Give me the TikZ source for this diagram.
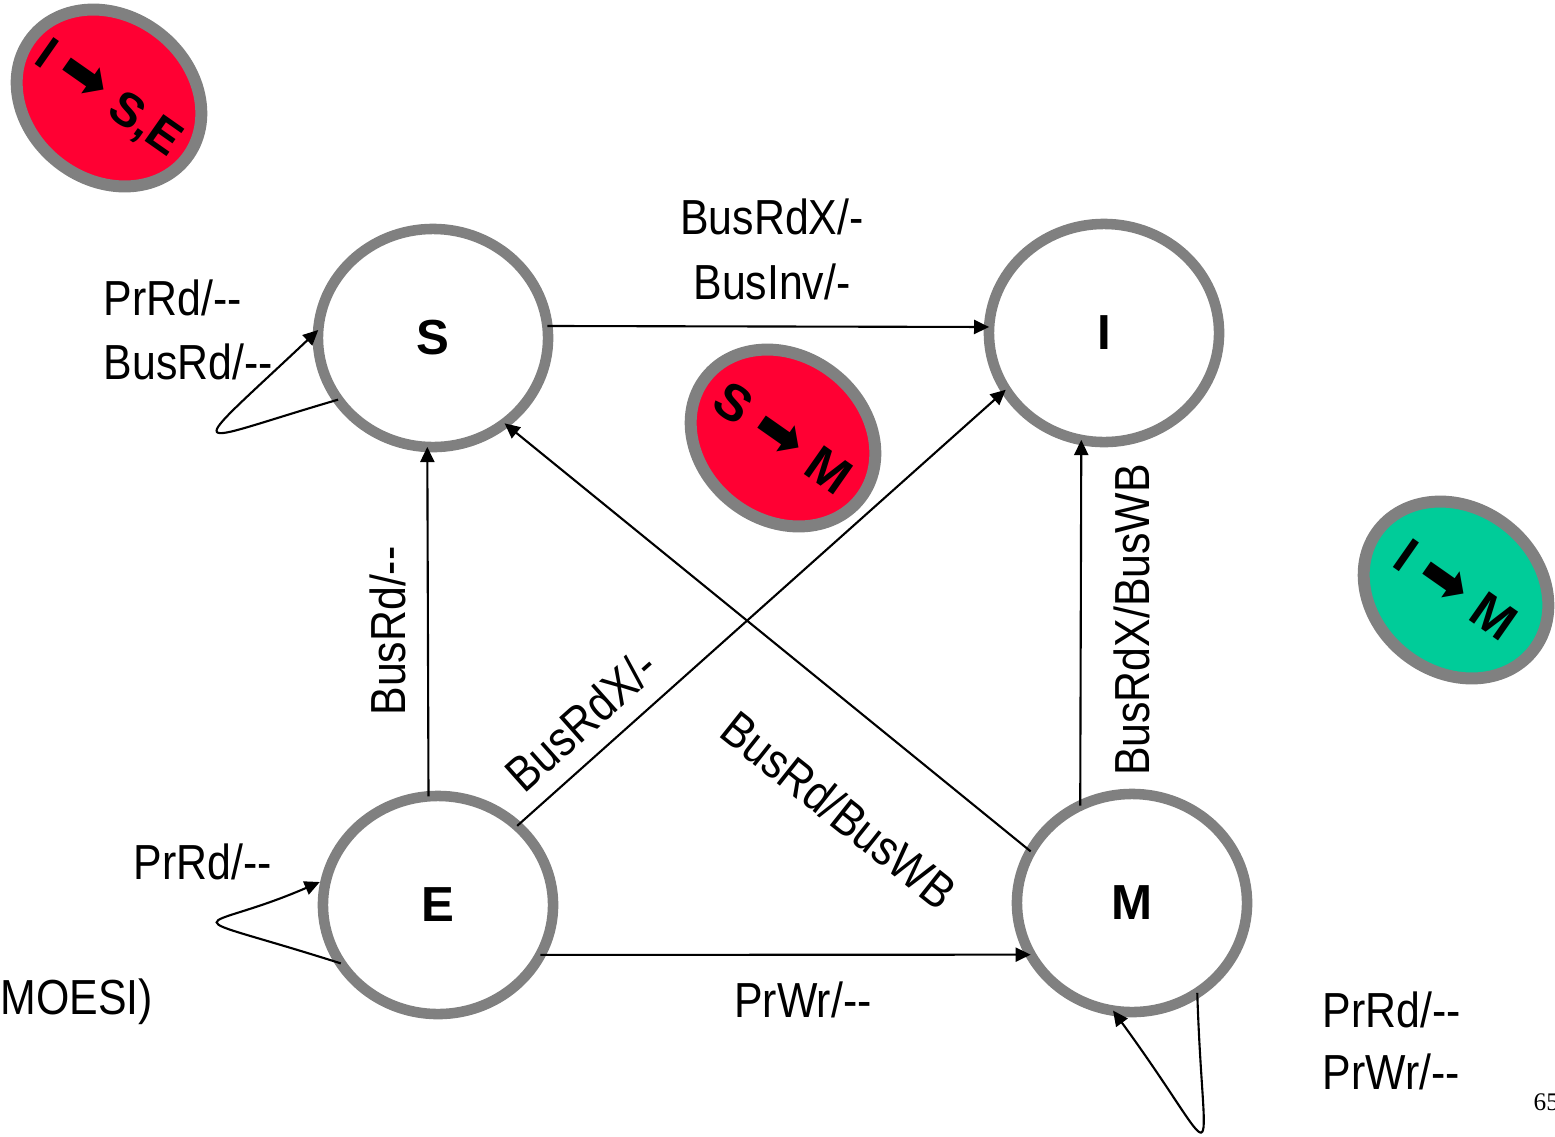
\documentclass[tikz,border=0pt]{standalone}
\usepackage{fontspec}
\setmainfont{Liberation Sans}
\newfontfamily\narrowfont[FakeStretch=0.87]{Liberation Sans}
\newfontfamily\symfont{DejaVu Sans}
\newfontfamily\pagefont{Liberation Serif}
\usetikzlibrary{arrows.meta,shapes.geometric,positioning}
\definecolor{ringgray}{RGB}{128,128,128}
\definecolor{badgered}{RGB}{255,0,51}
\definecolor{badgegreen}{RGB}{0,204,153}
% two hyphens, kept apart so they do not join into a dash
\newcommand{\dashes}{-\kern0pt-}
\newcommand{\goesto}{{\symfont\fontsize{17}{17}\selectfont ➡}}

\begin{document}
\begin{tikzpicture}[x=0.01cm,y=-0.01cm,
  state/.style={ellipse,draw=ringgray,line width=3pt,outer sep=0pt,
    minimum width=2.3cm,minimum height=2.18cm,inner sep=0pt,
    font=\fontsize{14}{16}\selectfont\bfseries},
  badge/.style={ellipse,draw=ringgray,line width=3.4pt,rotate=-38,
    minimum width=1.96cm,minimum height=1.64cm,inner sep=0pt},
  badgetext/.style={rotate=-35,inner sep=0pt,
    font=\fontsize{14.5}{16}\selectfont\bfseries},
  lbl/.style={font=\narrowfont\fontsize{14}{17}\selectfont,inner sep=0pt},
  trans/.style={-{Triangle[length=4.3pt,width=4pt]},line width=0.6pt},
]
\useasboundingbox (0,0) rectangle (1555,1136);

% the states
\node[state] (S) at (433,338) {S};
\node[state] (I) at (1104,333) {I};
\node[state] (E) at (438,905) {E};
\node[state] (M) at (1132,903) {M};

% the badges
\node[badge,fill=badgered] (IS) at (109,98) {};
\node[badgetext,font=\fontsize{13.5}{16}\selectfont\bfseries] (tIS) at ([xshift=-0.3pt,yshift=-0.3pt]IS.center) {I \goesto\ S,E};
\node[badge,fill=badgered] (SM) at (783,438) {};
\node[badgetext] (tSM) at (SM.center) {S \goesto\ M};
\node[badge,fill=badgegreen] (IM) at (1456,590) {};
\node[badgetext] (tIM) at (IM.center) {I \goesto\ M};

% bus transitions
\draw[trans] (S.6) -- (I.177);
\draw[trans] (E.95) -- (S.267);
\draw[trans] (E.45) -- (I.210);
\draw[trans] (M.153) -- (S.310);
\draw[trans] (M.118) -- (I.258);
\draw[trans] (E.334) -- (M.207);

% self loops
\draw[trans] (S.213) .. controls +(-154,45) and +(-139,131) .. (S.176);
\draw[trans,shorten >=2pt] (E.211) .. controls +(-176,-56) and +(-129,56) .. (E.167);
\draw[trans] (M.306) .. controls +(6,189) and +(114,156) .. (M.260);

% labels
\node[lbl] (lSI1) at (772,217) {BusRdX/-};
\node[lbl] (lSI2) at (772,282) {BusInv/-};
\node[lbl,rotate=90] (lES) at (388,631) {BusRd/\dashes};
\node[lbl,rotate=41.7] (lEI) at (581,720) {BusRdX/-};
\node[lbl,rotate=-38.5] (lMS) at (839,810) {BusRd/BusWB};
\node[lbl,rotate=90] (lMI) at (1132,620) {BusRdX/BusWB};
\node[lbl] (lEM) at (803,1000) {PrWr/\dashes};
\node[lbl,anchor=west] (lSS1) at (103,298) {PrRd/\dashes};
\node[lbl,anchor=west] (lSS2) at (103,362) {BusRd/\dashes};
\node[lbl,anchor=west] (lEE) at (133,862) {PrRd/\dashes};
\node[lbl,anchor=west] (lMM1) at (1322,1010) {PrRd/\dashes};
\node[lbl,anchor=west] (lMM2) at (1322,1072) {PrWr/\dashes};
\node[lbl,anchor=west] (proto) at (0,1002) {MOESI)};
\node[anchor=west,inner sep=0pt,font=\pagefont\fontsize{7.2}{9}\selectfont] (page) at (1533,1102) {65};
\end{tikzpicture}
\end{document}
